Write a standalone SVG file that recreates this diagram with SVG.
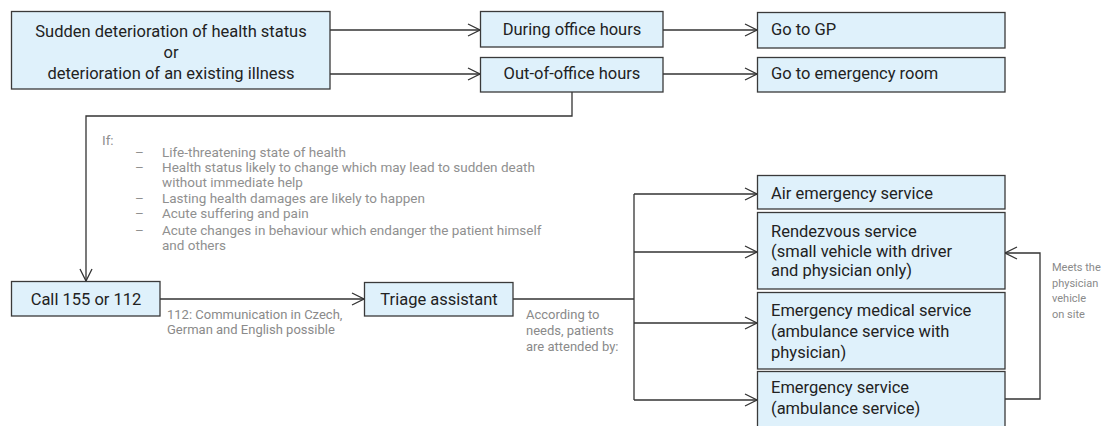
<svg xmlns="http://www.w3.org/2000/svg" width="1110" height="426" viewBox="0 0 1110 426">
<style>
.box{fill:#dff1fb;stroke:#3a3a3a;stroke-width:1.3}
.t{font-family:"Roboto","Liberation Sans",sans-serif;font-size:16.5px;fill:#222}
.c{text-anchor:middle}
.g{font-family:"Roboto","Liberation Sans",sans-serif;font-size:13px;fill:#8a8a8a}
.l{font-size:13.5px;fill:#909090}
.m{font-size:11px}
.ln{fill:none;stroke:#333;stroke-width:1.3}
</style>
<defs>
<marker id="ah" markerUnits="userSpaceOnUse" markerWidth="14" markerHeight="14" refX="13" refY="7" orient="auto">
<path d="M1,1 L13,7 L1,13" fill="none" stroke="#333" stroke-width="1.3"/>
</marker>
</defs>
<g id="connectors">
<path class="ln" d="M330,30 H480" marker-end="url(#ah)"/>
<path class="ln" d="M330,74 H480" marker-end="url(#ah)"/>
<path class="ln" d="M663,30 H757" marker-end="url(#ah)"/>
<path class="ln" d="M663,74 H757" marker-end="url(#ah)"/>
<path class="ln" d="M572,92 V116 H86 V281" marker-end="url(#ah)"/>
<path class="ln" d="M160,299 H364" marker-end="url(#ah)"/>
<path class="ln" d="M513,299 H634"/>
<path class="ln" d="M634,194 V400"/>
<path class="ln" d="M634,194 H757" marker-end="url(#ah)"/>
<path class="ln" d="M634,252 H757" marker-end="url(#ah)"/>
<path class="ln" d="M634,323 H757" marker-end="url(#ah)"/>
<path class="ln" d="M634,400 H757" marker-end="url(#ah)"/>
<path class="ln" d="M1005,399 H1040 V253 H1005" marker-end="url(#ah)"/>
</g>
<g id="n-sudden">
<rect class="box" x="11.5" y="11.5" width="318.5" height="77.5"/>
<text class="t c" x="171" y="37">Sudden deterioration of health status</text>
<text class="t c" x="171" y="58">or</text>
<text class="t c" x="171" y="79">deterioration of an existing illness</text>
</g>
<g id="n-during">
<rect class="box" x="480.5" y="11.5" width="182.5" height="35.5"/>
<text class="t c" x="572" y="35">During office hours</text>
</g>
<g id="n-out">
<rect class="box" x="480.5" y="57.5" width="182.5" height="34.5"/>
<text class="t c" x="572" y="79">Out-of-office hours</text>
</g>
<g id="n-gp">
<rect class="box" x="757.5" y="12.5" width="247.5" height="35.5"/>
<text class="t" x="771" y="35">Go to GP</text>
</g>
<g id="n-er">
<rect class="box" x="757.5" y="57.5" width="247.5" height="34.5"/>
<text class="t" x="771" y="79">Go to emergency room</text>
</g>
<g id="conditions">
<text class="g l" x="102" y="144.5">If:</text>
<text class="g l" x="135" y="156.5">–</text><text class="g l" x="162" y="156.5">Life-threatening state of health</text>
<text class="g l" x="135" y="172">–</text><text class="g l" x="162" y="172">Health status likely to change which may lead to sudden death</text>
<text class="g l" x="162" y="187">without immediate help</text>
<text class="g l" x="135" y="203">–</text><text class="g l" x="162" y="203">Lasting health damages are likely to happen</text>
<text class="g l" x="135" y="218">–</text><text class="g l" x="162" y="218">Acute suffering and pain</text>
<text class="g l" x="135" y="234.5">–</text><text class="g l" x="162" y="234.5">Acute changes in behaviour which endanger the patient himself</text>
<text class="g l" x="162" y="250">and others</text>
</g>
<g id="n-call">
<rect class="box" x="11.5" y="281.5" width="148.5" height="34.5"/>
<text class="t c" x="86" y="304.5">Call 155 or 112</text>
</g>
<g id="lbl-112">
<text class="g" x="167" y="319">112: Communication in Czech,</text>
<text class="g" x="167" y="334">German and English possible</text>
</g>
<g id="n-triage">
<rect class="box" x="364.5" y="282.5" width="148.5" height="33.5"/>
<text class="t c" x="439" y="304.5">Triage assistant</text>
</g>
<g id="lbl-needs">
<text class="g" x="526" y="319">According to</text>
<text class="g" x="526" y="335">needs, patients</text>
<text class="g" x="526" y="351">are attended by:</text>
</g>
<g id="n-air">
<rect class="box" x="757.5" y="175.5" width="247.5" height="33.5"/>
<text class="t" x="771" y="198.5">Air emergency service</text>
</g>
<g id="n-rendezvous">
<rect class="box" x="757.5" y="212.5" width="247.5" height="76.5"/>
<text class="t" x="771" y="237">Rendezvous service</text>
<text class="t" x="771" y="257">(small vehicle with driver</text>
<text class="t" x="771" y="276">and physician only)</text>
</g>
<g id="n-ems">
<rect class="box" x="757.5" y="292.5" width="247.5" height="76.5"/>
<text class="t" x="771" y="316">Emergency medical service</text>
<text class="t" x="771" y="337">(ambulance service with</text>
<text class="t" x="771" y="358">physician)</text>
</g>
<g id="n-es">
<rect class="box" x="757.5" y="371.5" width="247.5" height="60"/>
<text class="t" x="771" y="393">Emergency service</text>
<text class="t" x="771" y="414">(ambulance service)</text>
</g>
<g id="lbl-meets">
<text class="g m" x="1052" y="271">Meets the</text>
<text class="g m" x="1052" y="287">physician</text>
<text class="g m" x="1052" y="302">vehicle</text>
<text class="g m" x="1052" y="318">on site</text>
</g>
</svg>
